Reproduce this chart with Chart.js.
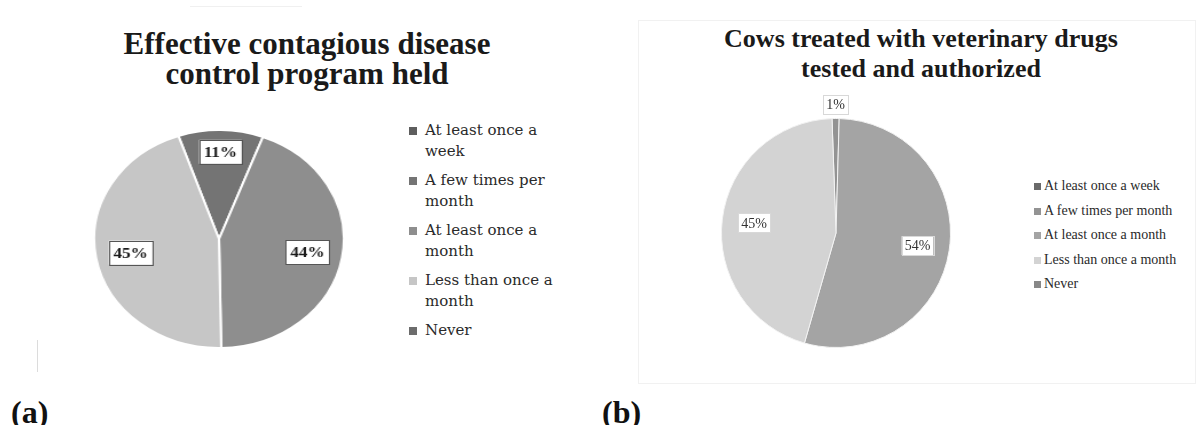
<!DOCTYPE html>
<html>
<head>
<meta charset="utf-8">
<script src="https://cdn.jsdelivr.net/npm/chart.js@4.4.1/dist/chart.umd.min.js"></script>
<style>
  html, body { margin: 0; padding: 0; background: #fff; }
  #page { position: relative; width: 1200px; height: 425px; overflow: hidden; background: #fff; }
  .title { position: absolute; text-align: center; font-family: "Liberation Serif", "Times New Roman", serif; font-weight: bold; color: #1a1a1a; }
  .panel-tag { position: absolute; font-family: "Liberation Serif", "Times New Roman", serif; font-weight: bold; font-size: 32px; color: #111; line-height: 32px; }
  .legend { position: absolute; margin: 0; padding: 0; list-style: none; color: #2a2a2a; }
  .legend li { position: relative; }
  .legend .sw { position: absolute; display: block; }
  #legendA { left: 409px; top: 120px; width: 160px; font-family: "DejaVu Serif", serif; font-size: 15px; line-height: 21px; }
  #legendA li { padding-left: 16px; width: 140px; margin-bottom: 8px; }
  #legendA .sw { left: 0; top: 7px; width: 8px; height: 8px; }
  #legendB { left: 1034px; top: 174px; width: 166px; font-family: "Liberation Serif", "Times New Roman", serif; font-size: 14px; line-height: 24.5px; white-space: nowrap; }
  #legendB li { padding-left: 10px; }
  #legendB .sw { left: 0; top: 9px; width: 7px; height: 7px; }
  #frameB { position: absolute; left: 638px; top: 20px; width: 556px; height: 362px; border: 1px solid #f1f1f1; }
  #edgeA { position: absolute; left: 37px; top: 340px; width: 1px; height: 32px; background: #dcdcdc; }
  #topA { position: absolute; left: 190px; top: 6px; width: 112px; height: 1px; background: #f0f0f0; }
  #pieA { position: absolute; transform: scaleX(1.145); transform-origin: 50% 50%; }
  #pieB { position: absolute; }
</style>
</head>
<body>
<div id="page">
  <div id="frameB"></div>
  <div id="edgeA"></div>
  <div id="topA"></div>

  <div class="title" id="titleA" style="left:107px; top:29px; width:400px; font-size:31px; line-height:30px;">Effective contagious disease<br>control program held</div>
  <div class="title" id="titleB" style="left:671px; top:24px; width:500px; font-size:26px; line-height:30px;">Cows treated with veterinary drugs<br>tested and authorized</div>

  <canvas id="pieA" width="228" height="228" style="left:105px; top:125px;"></canvas>
  <canvas id="pieB" width="300" height="300" style="left:686px; top:83px;"></canvas>

  <ul class="legend" id="legendA"></ul>
  <ul class="legend" id="legendB"></ul>

  <div class="panel-tag" style="left:11px; top:396px;">(a)</div>
  <div class="panel-tag" style="left:602px; top:396px;">(b)</div>
</div>

<script>
// Response categories shared by both pies
const categories = [
  'At least once a week',
  'A few times per month',
  'At least once a month',
  'Less than once a month',
  'Never'
];

// (a) Effective contagious disease control program held, % of farms
const programHeld = [0, 11, 44, 45, 0];

// (b) Cows treated with veterinary drugs tested and authorized, % of farms
const drugsAuthorized = [0, 1, 54, 45, 0];

// Grey shades for each category
const shadesA = ['#5e5e5e', '#747474', '#8e8e8e', '#c6c6c6', '#6c6c6c'];
const shadesB = ['#6a6a6a', '#939393', '#a4a4a4', '#d3d3d3', '#888888'];

// Boxed percentage labels placed along each slice's mid angle
const sliceLabels = {
  id: 'sliceLabels',
  afterDatasetsDraw(chart, args, opts) {
    const ctx = chart.ctx;
    const meta = chart.getDatasetMeta(0);
    const values = chart.data.datasets[0].data;
    ctx.save();
    ctx.font = opts.font;
    ctx.textAlign = 'center';
    ctx.textBaseline = 'middle';
    meta.data.forEach((arc, i) => {
      const v = values[i];
      if (!v) return;
      const p = arc.getProps(['x', 'y', 'startAngle', 'endAngle', 'outerRadius'], true);
      const mid = (p.startAngle + p.endAngle) / 2;
      const f = v < 5 ? 1.12 : (v < 20 ? 0.8 : 0.72);
      const x = p.x + Math.cos(mid) * p.outerRadius * f;
      const y = p.y + Math.sin(mid) * p.outerRadius * f;
      const text = v + '%';
      const w = ctx.measureText(text).width + opts.padX * 2;
      const h = opts.boxH;
      ctx.fillStyle = '#ffffff';
      ctx.fillRect(x - w / 2, y - h / 2, w, h);
      ctx.strokeStyle = opts.border;
      ctx.lineWidth = 1;
      ctx.strokeRect(Math.round(x - w / 2) + 0.5, Math.round(y - h / 2) + 0.5, Math.round(w), Math.round(h));
      ctx.fillStyle = opts.color;
      ctx.fillText(text, x, y + 1);
    });
    ctx.restore();
  }
};

function makePie(id, values, shades, rotation, pad, border, bw, labelOpts) {
  return new Chart(document.getElementById(id), {
    type: 'pie',
    data: {
      labels: categories,
      datasets: [{
        data: values,
        backgroundColor: shades,
        borderColor: border,
        borderWidth: bw
      }]
    },
    options: {
      responsive: false,
      animation: false,
      rotation: rotation,
      layout: { padding: pad },
      plugins: {
        legend: { display: false },
        tooltip: { enabled: false },
        sliceLabels: labelOpts
      }
    },
    plugins: [sliceLabels]
  });
}

makePie('pieA', programHeld, shadesA, -19, 4, '#ffffff', 2, {
  font: 'bold 15px "Liberation Serif", serif',
  color: '#1a1a1a', border: '#555555', padX: 4, boxH: 24
});

makePie('pieB', drugsAuthorized, shadesB, -2, 35, '#f2f2f2', 1, {
  font: '14px "Liberation Serif", serif',
  color: '#333333', border: '#d8d8d8', padX: 3, boxH: 19
});

// Legends built from the same categories and shades
function buildLegend(id, shades) {
  const ul = document.getElementById(id);
  categories.forEach((c, i) => {
    const li = document.createElement('li');
    const sw = document.createElement('span');
    sw.className = 'sw';
    sw.style.background = shades[i];
    li.appendChild(sw);
    li.appendChild(document.createTextNode(c));
    ul.appendChild(li);
  });
}
buildLegend('legendA', shadesA);
buildLegend('legendB', shadesB);
</script>
</body>
</html>
